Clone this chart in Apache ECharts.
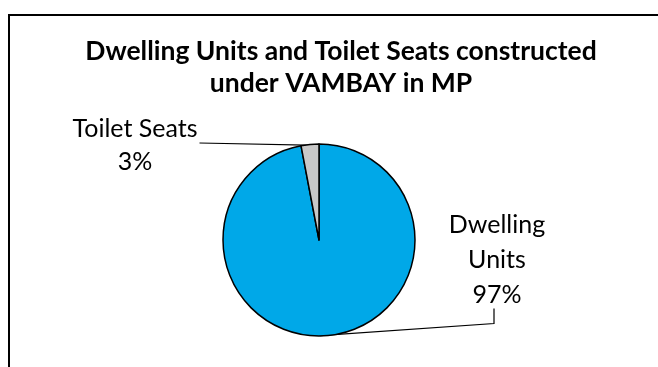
<!DOCTYPE html>
<html>
<head>
<meta charset="utf-8">
<script src="https://cdn.jsdelivr.net/npm/echarts@6/dist/echarts.min.js"></script>
<style>
  html, body { margin: 0; padding: 0; background: #fff; overflow: hidden; }
  #frame { position: absolute; left: 8px; top: 14px; width: 700px; height: 400px; border: 2px solid #000; box-sizing: border-box; }
  #chart { position: absolute; left: 0; top: 0; width: 658px; height: 367px; }
</style>
</head>
<body>
<div id="frame"></div>
<div id="chart"></div>
<script>
// Pie data
const categories = ['Dwelling Units', 'Toilet Seats'];
const shares = [97, 3];
const sliceColors = ['#00A8E8', '#C8C8C8'];
const labelTexts = ['Dwelling\nUnits\n97%', 'Toilet Seats\n3%'];
const labelLineHeights = [35, 33];

const chart = echarts.init(document.getElementById('chart'));
chart.setOption({
  animation: false,
  title: {
    text: 'Dwelling Units and Toilet Seats constructed\nunder VAMBAY in MP',
    left: 336,
    top: 30,
    textAlign: 'center',
    textStyle: { fontFamily: 'Lato', fontWeight: 'bold', fontSize: 26.5, lineHeight: 32, color: '#000' }
  },
  series: [{
    type: 'pie',
    center: [319, 240],
    radius: 96,
    startAngle: 90,
    clockwise: true,
    data: categories.map((c, i) => ({
      name: c,
      value: shares[i],
      itemStyle: { color: sliceColors[i] },
      label: { formatter: labelTexts[i], lineHeight: labelLineHeights[i] }
    })),
    itemStyle: { borderColor: '#000', borderWidth: 1.5 },
    label: {
      show: true,
      position: 'outside',
      fontFamily: 'Lato',
      fontSize: 25,
      color: '#000',
      align: 'center'
    },
    labelLine: { show: true, length: 2, length2: 110, lineStyle: { color: '#000', width: 1.2 } },
    labelLayout: function (p) {
      const a = p.labelLinePoints[0];
      const w = p.labelRect.width, h = p.labelRect.height;
      if (p.dataIndex === 0) {
        const x = 497, y = 260;
        const bx = x - 3, by = y + h / 2 - 4;
        return {
          x: x, y: y, align: 'center', verticalAlign: 'middle',
          labelLinePoints: [[a[0] - 8, a[1]], [bx, by + 15], [bx, by]]
        };
      }
      const x = 135, y = 145;
      return {
        x: x, y: y, align: 'center', verticalAlign: 'middle',
        labelLinePoints: [[a[0] + 9, a[1] + 1], [x + w / 2 + 2, y - 2], [x + w / 2 + 2, y - 2]]
      };
    }
  }]
});
</script>
</body>
</html>
